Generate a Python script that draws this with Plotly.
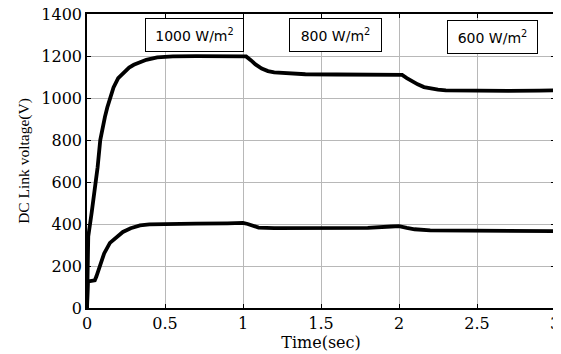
import plotly.graph_objects as go

# Upper DC link voltage trace (V)
t_upper = [0, 0.001, 0.003, 0.008, 0.03, 0.05, 0.068, 0.085, 0.1, 0.115,
           0.13, 0.147, 0.17, 0.2, 0.23, 0.27, 0.3, 0.34, 0.38, 0.45, 0.55, 0.7, 0.85, 1.0,
           1.02, 1.05, 1.08, 1.12, 1.16, 1.2, 1.3, 1.4, 1.6, 1.8, 1.95, 2.02, 2.05,
           2.08, 2.12, 2.16, 2.2, 2.25, 2.3, 2.5, 2.7, 2.9, 3.0]
v_upper = [0, 150, 280, 340, 455, 560, 670, 800, 865, 910,
           955, 1000, 1050, 1095, 1119, 1145, 1158, 1171, 1182, 1193, 1198, 1199, 1200, 1200,
           1198, 1180, 1160, 1140, 1128, 1122, 1116, 1113, 1112, 1111, 1112, 1110, 1095,
           1080, 1065, 1052, 1045, 1040, 1036, 1034, 1034, 1035, 1036]

# Lower DC link voltage trace (V)
t_lower = [0, 0.002, 0.006, 0.02, 0.04, 0.05, 0.06, 0.083, 0.11, 0.147, 0.19, 0.23,
           0.28, 0.34, 0.4, 0.5, 0.7, 0.9, 1.0, 1.03, 1.07, 1.1, 1.2, 1.5, 1.8, 1.95,
           2.0, 2.05, 2.1, 2.2, 2.4, 2.7, 3.0]
v_lower = [0, 90, 128, 128, 130, 132, 150, 205, 260, 310, 340, 362,
           380, 393, 398, 400, 402, 403, 405, 400, 390, 383, 380, 380, 382, 388,
           390, 382, 375, 370, 368, 367, 366]

# Irradiance labels: text, centre time, centre voltage, box width (px)
irr_text = ["1000 W/m<sup>2</sup>", "800 W/m<sup>2</sup>", "600 W/m<sup>2</sup>"]
irr_t = [0.689, 1.593, 2.6]
irr_v = [1300, 1302, 1292]
irr_w = [99, 93, 91]

x_ticks = [0, 0.5, 1, 1.5, 2, 2.5, 3]
x_ticklabels = ["0", "0.5", "1", "1.5", "2", "2.5", "3"]
y_ticks = [0, 200, 400, 600, 800, 1000, 1200, 1400]

fig = go.Figure()
for tt, vv in [(t_upper, v_upper), (t_lower, v_lower)]:
    fig.add_trace(go.Scatter(x=tt, y=vv, mode="lines",
                             line=dict(color="black", width=3.8),
                             showlegend=False))

for txt, xt, yv, w in zip(irr_text, irr_t, irr_v, irr_w):
    fig.add_annotation(x=xt, y=yv, xref="x", yref="y", text=txt, showarrow=False,
                       font=dict(family="DejaVu Sans", size=14, color="black"),
                       bordercolor="black", borderwidth=1, bgcolor="white",
                       width=w - 2, height=32, borderpad=0)

tick_serif = "DejaVu Serif"
title_serif = "Liberation Serif"
axis_common = dict(showline=True, linecolor="black", linewidth=1.5, mirror="allticks",
                   ticks="inside", ticklen=4, tickcolor="black", automargin=False,
                   ticklabeloverflow="allow",
                   showgrid=True, gridcolor="#b8b8b8", gridwidth=1, zeroline=False,
                   tickfont=dict(family=tick_serif, size=16, color="black"))

fig.update_xaxes(range=[0, 3], tickvals=x_ticks, ticktext=x_ticklabels,
                 title=dict(text="Time(sec)", font=dict(family=tick_serif, size=16, color="black"),
                            standoff=0),
                 **axis_common)
fig.update_yaxes(range=[0, 1400], tickvals=y_ticks,
                 title=dict(text="DC Link voltage(V)", font=dict(family=title_serif, size=15.5, color="black"),
                            standoff=8),
                 **axis_common)

# page body has an 8px default margin, so the figure is 8px smaller than the window
fig.update_layout(width=553, height=346, plot_bgcolor="white", paper_bgcolor="white",
                  margin=dict(l=79, r=6, t=6, b=46))

fig.write_html("out.html")
